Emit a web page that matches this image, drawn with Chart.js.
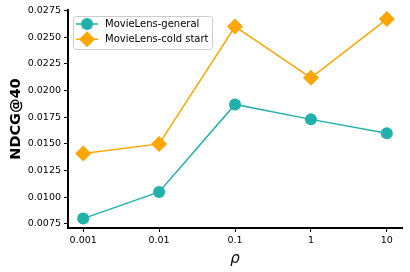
<!DOCTYPE html>
<html>
<head>
<meta charset="utf-8">
<script src="https://cdn.jsdelivr.net/npm/chart.js@4.4.0/dist/chart.umd.min.js"></script>
<style>
  body { margin: 0; background: #fff; }
  canvas { display: block; }
</style>
</head>
<body>
<canvas id="grafico" width="410" height="272"></canvas>
<script>
// valores
const rhoLabels = ['0.001', '0.01', '0.1', '1', '10'];
const general = [0.0080, 0.0105, 0.0187, 0.0173, 0.0160];
const coldStart = [0.0141, 0.0150, 0.0260, 0.0212, 0.0267];
const yTicks = [0.0075, 0.0100, 0.0125, 0.0150, 0.0175, 0.0200, 0.0225, 0.0250, 0.0275];

const fonte = 'DejaVu Sans';

// legenda dentro da área do gráfico (canto superior esquerdo)
const legendaDentro = {
  id: 'legendaDentro',
  afterDraw(chart) {
    const ctx = chart.ctx;
    const area = chart.chartArea;
    const x0 = area.left + 5, y0 = area.top + 6;
    ctx.save();
    ctx.beginPath();
    ctx.roundRect(x0 + 0.5, y0 + 0.5, 139, 33, 3);
    ctx.fillStyle = 'rgba(255,255,255,0.8)';
    ctx.fill();
    ctx.strokeStyle = '#cccccc';
    ctx.lineWidth = 1;
    ctx.stroke();
    chart.data.datasets.forEach((ds, i) => {
      const cy = y0 + 8 + i * 15.3;
      ctx.beginPath();
      ctx.moveTo(x0 + 3, cy);
      ctx.lineTo(x0 + 25, cy);
      ctx.strokeStyle = ds.borderColor;
      ctx.lineWidth = ds.borderWidth;
      ctx.stroke();
      ctx.fillStyle = ds.pointBackgroundColor;
      Chart.helpers.drawPoint(ctx, { pointStyle: ds.pointStyle, radius: ds.pointRadius, rotation: 0, borderWidth: 0 }, x0 + 14, cy);
      ctx.fillStyle = '#000';
      ctx.font = '10px "' + fonte + '"';
      ctx.textBaseline = 'middle';
      ctx.textAlign = 'left';
      ctx.fillText(ds.label, x0 + 32, cy);
    });
    ctx.restore();
  }
};

const ctx = document.getElementById('grafico').getContext('2d');
const grafico = new Chart(ctx, {
  type: 'line',
  data: {
    datasets: [{
      label: 'MovieLens-general',
      data: general.map((v, i) => ({ x: i, y: v })),
      borderColor: '#20b2aa',
      backgroundColor: '#20b2aa',
      pointBackgroundColor: '#20b2aa',
      pointBorderWidth: 0,
      pointStyle: 'circle',
      pointRadius: 6,
      borderWidth: 1.5,
      clip: false
    }, {
      label: 'MovieLens-cold start',
      data: coldStart.map((v, i) => ({ x: i, y: v })),
      borderColor: '#ffa500',
      backgroundColor: '#ffa500',
      pointBackgroundColor: '#ffa500',
      pointBorderWidth: 0,
      pointStyle: 'rectRot',
      pointRadius: 8,
      borderWidth: 1.5,
      clip: false
    }]
  },
  options: {
    responsive: false,
    animation: false,
    layout: { padding: { top: 10, right: 7, left: 0, bottom: 0 } },
    plugins: { legend: { display: false }, tooltip: { enabled: false } },
    scales: {
      x: {
        type: 'linear',
        min: -0.2,
        max: 4.2,
        afterBuildTicks(scale) { scale.ticks = rhoLabels.map((_, i) => ({ value: i })); },
        afterFit(scale) { scale.height = 44; },
        ticks: {
          callback: v => rhoLabels[v],
          autoSkip: false,
          maxRotation: 0,
          font: { family: fonte, size: 9.5 },
          color: '#000',
          padding: 3
        },
        grid: { drawOnChartArea: false, drawTicks: true, tickLength: 4, color: '#000' },
        border: { color: '#000', width: 2 },
        title: {
          display: true,
          text: 'ρ',
          font: { family: fonte, size: 15, style: 'italic' },
          color: '#000',
          padding: { top: 2, bottom: 4 }
        }
      },
      y: {
        min: 0.00712,
        max: 0.02755,
        afterBuildTicks(scale) { scale.ticks = yTicks.map(v => ({ value: v })); },
        afterFit(scale) { scale.width = 68; },
        ticks: {
          callback: v => v.toFixed(4),
          font: { family: fonte, size: 9.5 },
          color: '#000',
          padding: 3
        },
        grid: { drawOnChartArea: false, drawTicks: true, tickLength: 4, color: '#000' },
        border: { color: '#000', width: 2 },
        title: {
          display: true,
          text: 'NDCG@40',
          font: { family: fonte, size: 14.5, weight: 'bold' },
          color: '#000',
          padding: { top: 8, bottom: 0 }
        }
      }
    }
  },
  plugins: [legendaDentro]
});
</script>
</body>
</html>
